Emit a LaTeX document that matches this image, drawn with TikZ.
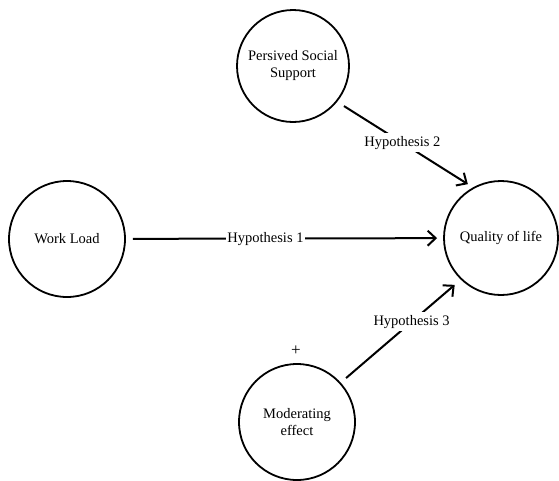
\documentclass[tikz,border=0pt]{standalone}
\usepackage{fontspec}
\setmainfont{Liberation Serif}
\usetikzlibrary{arrows.meta}

\begin{document}
\begin{tikzpicture}[
  x=1pt, y=-1pt,
  every node/.style = {font=\fontsize{14.5}{17}\selectfont},
  var/.style  = {circle, draw, line width=1.8pt, inner sep=0pt, align=center},
  hyp/.style  = {fill=white, inner sep=1pt},
  arr/.style  = {-{Straight Barb[length=8pt,width=15pt]}, line width=2pt},
]
\useasboundingbox (0,0) rectangle (559,480);
\node[var, minimum size=112pt] (pss) at (293,66)  {Persived Social\\Support};
\node[var, minimum size=116pt] (wl)  at (67,239)  {Work Load};
\node[var, minimum size=114pt] (qol) at (501,238) {Quality of life};
\node[var, minimum size=116pt] (me)  at (297,422) {Moderating\\effect};
\node[font=\fontsize{17}{20}\selectfont] (plus) at (296,351) {+};
\draw[arr, shorten <=7pt, shorten >=6pt] (wl) -- node[hyp, pos=0.44] {Hypothesis 1} (qol);
\draw[arr, shorten <=8pt, shorten >=6pt] (pss.-39) -- node[hyp, pos=0.48, inner sep=3pt] {Hypothesis 2} (qol.119);
\draw[arr, shorten <=7pt, shorten >=8pt] (me.42.5) -- node[hyp, pos=0.59, inner sep=3pt] {Hypothesis 3} (qol.226);
\end{tikzpicture}
\end{document}
